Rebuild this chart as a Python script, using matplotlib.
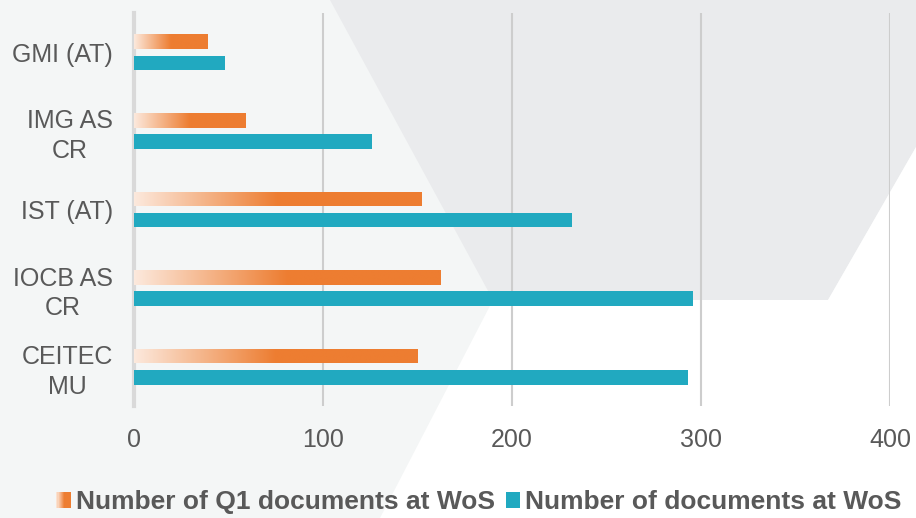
import numpy as np
import matplotlib
matplotlib.use("Agg")
import matplotlib.pyplot as plt
from matplotlib.patches import Polygon, Rectangle, Patch
from matplotlib.legend_handler import HandlerPatch
from matplotlib.colors import to_rgb

categories = ["CEITEC\nMU", "IOCB AS\nCR", "IST (AT)", "IMG AS\nCR", "GMI (AT)"]
q1_docs = [150, 162, 152, 59, 39]
all_docs = [293, 296, 232, 126, 48]
series_names = ["Number of Q1 documents at WoS", "Number of documents at WoS"]
xticks = [0, 100, 200, 300, 400]

ORANGE = "#ED7D31"
ORANGE_LIGHT = "#FCE9DD"
TEAL = "#21A9C0"
TXT = "#595959"

plt.rcParams["font.family"] = ["Liberation Sans", "DejaVu Sans"]

W, H = 916, 518
fig = plt.figure(figsize=(W / 100, H / 100), dpi=100, facecolor="#F4F6F6")


def px(pts):
    return [(x / W, 1 - y / H) for x, y in pts]


# background shapes
fig.patches.append(Polygon(px([(330, 0), (493, 300), (828, 300), (916, 147), (916, 0)]),
                           closed=True, transform=fig.transFigure, facecolor="#EAEBED",
                           edgecolor="none", zorder=-2))
fig.patches.append(Polygon(px([(380, 518), (493, 300), (828, 300), (916, 147), (916, 518)]),
                           closed=True, transform=fig.transFigure, facecolor="#FFFFFF",
                           edgecolor="none", zorder=-2))

ax = fig.add_axes([134 / W, 1 - 406 / H, (890 - 134) / W, (406 - 13) / H])
ax.set_facecolor("none")

y = np.arange(len(categories))
h = 0.185
off = 0.135

# gradient image: light -> orange over first half, solid after
c0 = np.array(to_rgb(ORANGE_LIGHT))
c1 = np.array(to_rgb(ORANGE))
t = np.linspace(0, 1, 256)
f = np.clip(t / 0.5, 0, 1)[:, None]
grad = (c0 * (1 - f) + c1 * f)[None, :, :]

bars_q1 = ax.barh(y + off, q1_docs, height=h, color=ORANGE, zorder=3)
for b, v, yy in zip(bars_q1, q1_docs, y + off):
    im = ax.imshow(grad, extent=[0, v, yy - h / 2, yy + h / 2], aspect="auto",
                   zorder=4, interpolation="bilinear")
    im.set_clip_path(b)
ax.barh(y - off, all_docs, height=h, color=TEAL, zorder=3)

ax.set_xlim(0, 400)
ax.set_ylim(-0.5, 4.5)
ax.set_xticks(xticks)
ax.set_yticks(y)
ax.set_yticklabels(categories)
plt.setp(ax.get_yticklabels(), multialignment="center", linespacing=1.3)
ax.tick_params(axis="both", length=0, labelsize=18, labelcolor=TXT)
ax.tick_params(axis="x", pad=16)
ax.tick_params(axis="y", pad=15)

ax.grid(axis="x", color="#CDCDCD", lw=1.5, zorder=1)
ax.set_axisbelow(True)
for s in ["top", "right", "bottom"]:
    ax.spines[s].set_visible(False)
ax.spines["left"].set_color("#D9D9D9")
ax.spines["left"].set_linewidth(3)
ax.spines["left"].set_zorder(2)


class GradHandler(HandlerPatch):
    def create_artists(self, legend, orig_handle, xdescent, ydescent, width, height, fontsize, trans):
        n = 12
        arts = []
        for i in range(n):
            fr = min(1, (i + 0.5) / n / 0.6)
            col = c0 * (1 - fr) + c1 * fr
            r = Rectangle((-xdescent + width * i / n, -ydescent), width / n + 0.3, height,
                          facecolor=col, edgecolor="none", transform=trans)
            arts.append(r)
        return arts


h_q1 = Patch(facecolor=ORANGE)
h_all = Patch(facecolor=TEAL)
fig.legend([h_q1, h_all], series_names, loc="center", bbox_to_anchor=(479 / W, 1 - 502 / H),
           ncol=2, frameon=False, handler_map={h_q1: GradHandler()},
           prop={"weight": "bold", "size": 19}, labelcolor=TXT,
           handlelength=0.53, handleheight=0.57, handletextpad=0.22, columnspacing=0.4,
           borderpad=0, borderaxespad=0)

fig.savefig("out.png", dpi=100, facecolor=fig.get_facecolor())
